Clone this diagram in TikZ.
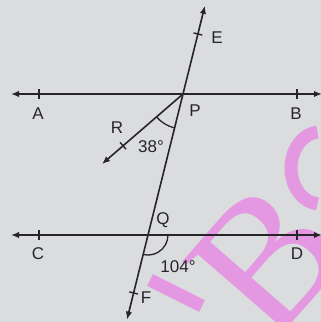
\documentclass[tikz,border=0pt]{standalone}
\usepackage{fontspec}
\newfontfamily\lbfont{Liberation Sans}
\newfontfamily\wmfont{Liberation Serif}
\usetikzlibrary{calc,arrows.meta}
\definecolor{bg}{RGB}{219,220,222}
\definecolor{ink}{RGB}{38,38,40}
\definecolor{wm}{RGB}{228,152,226}
\begin{document}
\begin{tikzpicture}[x=1pt,y=1pt,
  ln/.style={draw=ink,line width=1.6pt},
  tip/.style={{Latex[length=8pt,width=6.5pt]}-{Latex[length=8pt,width=6.5pt]}},
  onetip/.style={-{Latex[length=8pt,width=6.5pt]}},
  tk/.style={draw=ink,line width=1.4pt},
  ang/.style={draw=ink,line width=1.3pt},
  lbl/.style={font=\lbfont\fontsize{17}{17}\selectfont,text=ink,inner sep=0pt},
  wmk/.style={text=wm,font=\wmfont\fontsize{187}{187}\selectfont,inner sep=0pt},
  wmline/.style={draw=wm,line width=13pt}]
\fill[bg] (0,0) rectangle (321,322);
\useasboundingbox (0,0) rectangle (321,322);
\begin{scope}
\clip (0,0) rectangle (321,322);
\node[wmk,rotate=49] (wB) at (266,63) {B};
\coordinate (wc) at (320,154);
\draw[wmline] ($(wc)+(95:29 and 36)$) arc[start angle=95,end angle=265,x radius=29,y radius=36];
\coordinate (wy1) at (150,42);
\coordinate (wy2) at (202,16);
\draw[wmline] (wy1) -- (wy2);
\end{scope}
% points
\coordinate (P) at (183,228);
\coordinate (Q) at (148,87);
\coordinate (ABl) at (11,228);
\coordinate (ABr) at (322,228);
\coordinate (CDl) at (11,87);
\coordinate (CDr) at (322,87);
\coordinate (A) at (39,228);
\coordinate (B) at (297,228);
\coordinate (C) at (39,87);
\coordinate (D) at (297,87);
\coordinate (Etip) at ($(P)!-0.625!(Q)$);
\coordinate (Fo) at ($(P)!1.6!(Q)$);
\coordinate (E) at ($(P)!-0.4255!(Q)$);
\coordinate (F) at ($(P)!1.411!(Q)$);
\coordinate (Rtip) at (102,158);
\coordinate (R) at ($(P)!0.74!(Rtip)$);
% lines
\draw[ln,tip] (ABl) -- (ABr);
\draw[ln,tip] (CDl) -- (CDr);
\draw[ln,tip] (Fo) -- (Etip);
\draw[ln,onetip] (P) -- (Rtip);
% ticks
\foreach \t in {A,B,C,D}{\draw[tk] ($(\t)+(0,5)$) -- ($(\t)+(0,-5)$);}
\draw[tk] ($(E)!4.5pt!90:(P)$) -- ($(E)!4.5pt!-90:(P)$);
\draw[tk] ($(F)!4.5pt!90:(P)$) -- ($(F)!4.5pt!-90:(P)$);
\draw[tk] ($(R)!4.5pt!90:(P)$) -- ($(R)!4.5pt!-90:(P)$);
% angle arcs
\draw[ang] ($(P)+(220.8:35)$) arc[start angle=220.8,end angle=256.06,radius=35];
\draw[ang] ($(Q)+(0:20)$) arc[start angle=0,end angle=-103.9,radius=20];
% labels
\node[lbl] (lA) at (38,208) {A};
\node[lbl] (lB) at (296,208) {B};
\node[lbl] (lC) at (38,68) {C};
\node[lbl] (lD) at (297,68) {D};
\node[lbl] (lP) at (195,211) {P};
\node[lbl] (lR) at (117,194) {R};
\node[lbl] (l38) at (151,175) {38°};
\node[lbl] (lQ) at (163,102) {Q};
\node[lbl] (l104) at (178,55) {104°};
\node[lbl] (lF) at (146,24) {F};
\node[lbl] (lE) at (217,284) {E};
\end{tikzpicture}
\end{document}
